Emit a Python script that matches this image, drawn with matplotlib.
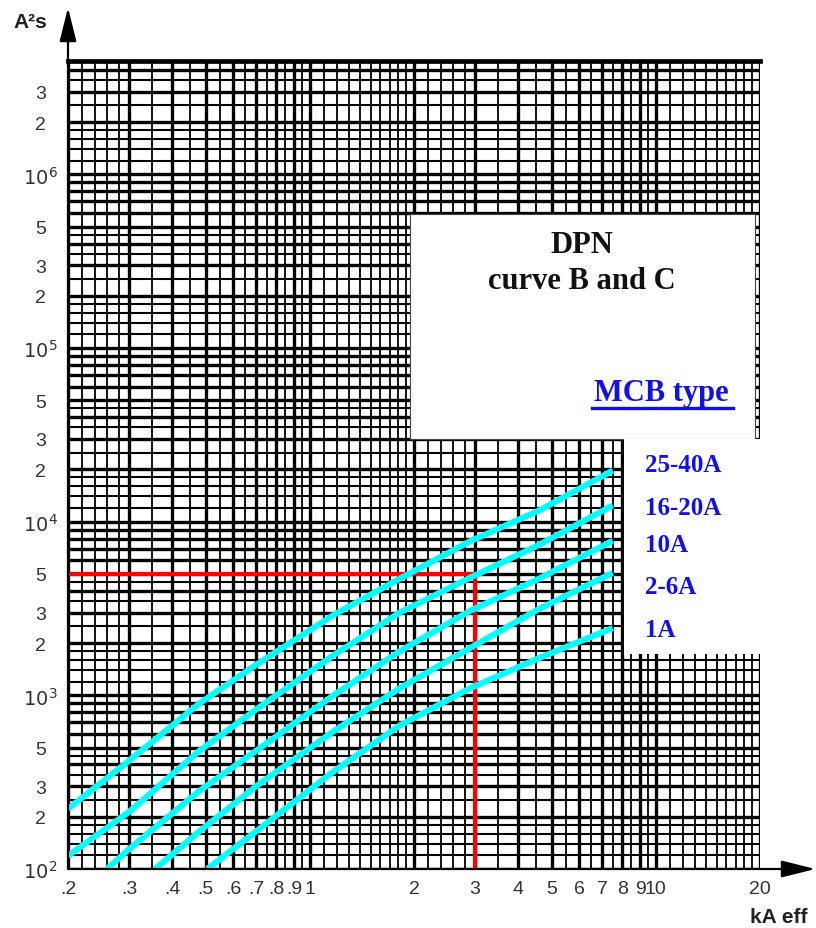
import numpy as np
import matplotlib
matplotlib.use("Agg")
import matplotlib.pyplot as plt
import matplotlib.patches as patches
from matplotlib.ticker import NullLocator

# I2t let-through curves (kA eff, A2s)
curve_labels = ["25-40A", "16-20A", "10A", "2-6A", "1A"]

x_2540 = [0.2, 0.3, 0.48, 0.7, 1.17, 1.82, 2.9, 4.6, 7.5]
y_2540 = [222, 420, 900, 1500, 2900, 4700, 7700, 11600, 19700]

x_1620 = [0.2, 0.3, 0.48, 0.7, 1.17, 1.82, 2.9, 4.6, 7.5]
y_1620 = [119, 213, 480, 830, 1700, 3000, 4750, 7360, 12400]

x_10 = [0.259, 0.3, 0.48, 0.7, 1.17, 1.82, 2.9, 4.6, 7.5]
y_10 = [100, 130, 282, 480, 1000, 1795, 3060, 4700, 7770]

x_26 = [0.357, 0.48, 0.7, 1.17, 1.82, 2.9, 4.6, 7.5]
y_26 = [100, 165, 300, 620, 1100, 1870, 3150, 5070]

x_1 = [0.505, 0.7, 1.17, 1.82, 2.9, 4.6, 7.5]
y_1 = [100, 165, 364, 671, 1097, 1640, 2440]

curves = [(x_2540, y_2540), (x_1620, y_1620), (x_10, y_10), (x_26, y_26), (x_1, y_1)]

# example reading (red lines)
red_x = 3
red_y = 5000

x_ticks = [0.2, 0.3, 0.4, 0.5, 0.6, 0.7, 0.8, 0.9, 1, 2, 3, 4, 5, 6, 7, 8, 9, 10, 20]
x_ticklabels = [".2", ".3", ".4", ".5", ".6", ".7", ".8", ".9", "1",
                "2", "3", "4", "5", "6", "7", "8", "9", "10", "20"]
y_ticks = [1e2, 2e2, 3e2, 5e2, 1e3, 2e3, 3e3, 5e3, 1e4, 2e4, 3e4, 5e4,
           1e5, 2e5, 3e5, 5e5, 1e6, 2e6, 3e6]
y_ticklabels = [r"$10^2$", "2", "3", "5", r"$10^3$", "2", "3", "5", r"$10^4$", "2", "3", "5",
                r"$10^5$", "2", "3", "5", r"$10^6$", "2", "3"]

XMIN, XMAX = 0.2, 20
YMIN, YMAX = 100, 4.5e6

W, H = 816, 929
fig = plt.figure(figsize=(W / 100, H / 100), dpi=100)
L, R, T, B = 68, 760, 62, 870
ax = fig.add_axes([L / W, (H - B) / H, (R - L) / W, (B - T) / H])
ax.set_xscale("log")
ax.set_yscale("log")
ax.set_xlim(XMIN, XMAX)
ax.set_ylim(YMIN, YMAX)


def grid_vals(lo, hi, mults):
    out = []
    for k in range(-2, 8):
        for m in mults:
            v = m * 10.0 ** k
            if lo * 0.999 <= v <= hi * 1.001:
                out.append(v)
    return out


major_m = [1, 2, 3, 4, 5, 6, 7, 8, 9]
x_minor_m = [1.1, 1.2, 1.3, 1.4, 1.5, 1.6, 1.7, 1.8, 1.9, 2.2, 2.4, 2.6, 2.8,
             3.5, 4.5, 5.5, 6.5, 7.5, 8.5, 9.5]
y_minor_m = [1.2, 1.4, 1.6, 1.8, 2.5, 3.5, 4.5]

xt = ax.get_xaxis_transform()
yt = ax.get_yaxis_transform()
ax.vlines(grid_vals(XMIN, XMAX, x_minor_m), 0, 1, transform=xt, color="black", lw=1.3, zorder=1)
ax.vlines(grid_vals(XMIN, XMAX, major_m), 0, 1, transform=xt, color="black", lw=2.4, zorder=1)
ax.hlines(grid_vals(YMIN, YMAX, y_minor_m), 0, 1, transform=yt, color="black", lw=1.5, zorder=1)
ax.hlines(grid_vals(YMIN, YMAX, major_m), 0, 1, transform=yt, color="black", lw=2.4, zorder=1)

# white panels that blank out the grid
ax.add_patch(patches.Rectangle((0.494, 0.532), 0.499, 0.279, transform=ax.transAxes,
                               facecolor="white", edgecolor="#444444", lw=0.8, zorder=3))
ax.add_patch(patches.Rectangle((0.803, 0.266), 0.22, 0.266, transform=ax.transAxes,
                               facecolor="white", edgecolor="none", zorder=3, clip_on=False))

# red reading lines
ax.plot([XMIN, red_x], [red_y, red_y], color="#ff0000", lw=3, zorder=5, solid_capstyle="butt")
ax.plot([red_x, red_x], [YMIN, red_y], color="#ff0000", lw=3, zorder=5, solid_capstyle="butt")

for xs, ys in curves:
    ax.plot(xs, ys, color="#00ffff", lw=4.4, zorder=6, solid_capstyle="butt",
            solid_joinstyle="round", clip_on=True)

# frame
for s in ["left", "right", "bottom"]:
    ax.spines[s].set_visible(False)
ax.spines["top"].set_linewidth(3.4)
ax.spines["top"].set_zorder(4)

arrow = dict(arrowstyle="-|>,head_length=0.8,head_width=0.2", mutation_scale=26, lw=1.6,
             color="black", shrinkA=0, shrinkB=0)
ax.annotate("", xy=(0, 1.066), xytext=(0, 0), xycoords="axes fraction",
            arrowprops=arrow, zorder=7)
ax.annotate("", xy=(1.08, 0), xytext=(0, 0), xycoords="axes fraction",
            arrowprops=arrow, zorder=7)

# ticks
ax.xaxis.set_minor_locator(NullLocator())
ax.yaxis.set_minor_locator(NullLocator())
ax.set_xticks(x_ticks)
ax.set_xticklabels(x_ticklabels, fontfamily="Liberation Sans", fontsize=14, color="#333333")
ax.set_yticks(y_ticks)
ax.set_yticklabels(y_ticklabels, fontfamily="Liberation Sans", fontsize=14, color="#333333")
ax.tick_params(which="both", length=0)
ax.tick_params(axis="x", pad=8)
ax.tick_params(axis="y", pad=20)
for lbl in ax.get_yticklabels():
    lbl.set_horizontalalignment("center")

fig.text(30 / W, 1 - 22 / H, "A²s", fontfamily="Liberation Sans", fontsize=15,
         fontweight="bold", color="#222222", ha="center", va="center")
fig.text(750 / W, 1 - 918 / H, "kA eff", fontfamily="Liberation Sans", fontsize=15,
         fontweight="bold", color="#222222", ha="left", va="center")

# box texts
serif = "Liberation Serif"
ax.text(0.743, 0.7735, "DPN", transform=ax.transAxes, ha="center", va="center",
        fontfamily=serif, fontweight="bold", fontsize=22, color="#111111", zorder=8)
ax.text(0.743, 0.728, "curve B and C", transform=ax.transAxes, ha="center", va="center",
        fontfamily=serif, fontweight="bold", fontsize=22, color="#111111", zorder=8)
ax.text(0.858, 0.590, "MCB type", transform=ax.transAxes, ha="center", va="center",
        fontfamily=serif, fontweight="bold", fontsize=22, color="#1010ee", zorder=8)
ax.plot([0.757, 0.961], [0.5705, 0.5705], transform=ax.transAxes, color="#1010ee",
        lw=2.4, zorder=8)

label_y = [0.501, 0.448, 0.401, 0.350, 0.297]
for lab, yy in zip(curve_labels, label_y):
    ax.text(0.834, yy, lab, transform=ax.transAxes, ha="left", va="center",
            fontfamily=serif, fontweight="bold", fontsize=18, color="#1010ee", zorder=8)

fig.savefig("out.png", dpi=100)
